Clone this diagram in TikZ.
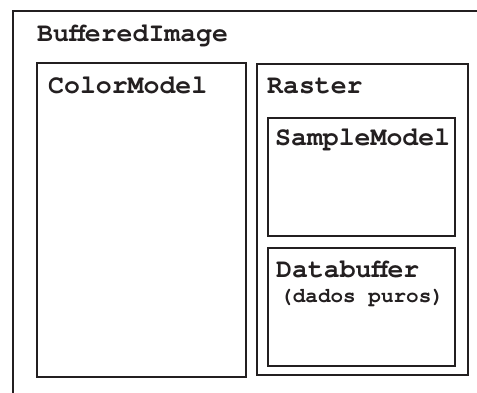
\documentclass[tikz,border=0pt]{standalone}
\usepackage{fontspec}
\setmonofont{texgyrecursor}[Extension=.otf, UprightFont=*-regular, BoldFont=*-bold]
\definecolor{ink}{HTML}{231F20}
\tikzset{
  frame/.style={draw=ink, line width=2pt, rectangle, inner sep=0pt, anchor=north west},
  title/.style={text=ink, font=\ttfamily\bfseries\fontsize{26.5}{28}\selectfont, anchor=base west, inner sep=0pt},
  note/.style={text=ink, font=\ttfamily\bfseries\fontsize{21}{24}\selectfont, anchor=base west, inner sep=0pt}
}
\begin{document}
\begin{tikzpicture}[x=1pt,y=-1pt]
\useasboundingbox (0,0) rectangle (477,392);
\clip (0,0) rectangle (477,392);
% outer container, running past the page edge
\node[frame, minimum width=490pt, minimum height=400pt] (buffered) at (12,10) {};
\node[title] (tbuffered) at (37,41) {BufferedImage};
% colour model
\node[frame, minimum width=209pt, minimum height=314pt] (colormodel) at (36,62) {};
\node[title] (tcolormodel) at (48,93) {ColorModel};
% raster and its parts
\node[frame, minimum width=211pt, minimum height=311pt] (raster) at (256,63) {};
\node[title] (traster) at (267,93) {Raster};
\node[frame, minimum width=187pt, minimum height=118pt] (samplemodel) at (267,117) {};
\node[title] (tsamplemodel) at (275,145) {SampleModel};
\node[frame, minimum width=187pt, minimum height=118pt] (databuffer) at (267,247) {};
\node[title] (tdatabuffer) at (276,277) {Databuffer};
\node[note] (tdados) at (280,302) {(dados puros)};
\end{tikzpicture}
\end{document}
